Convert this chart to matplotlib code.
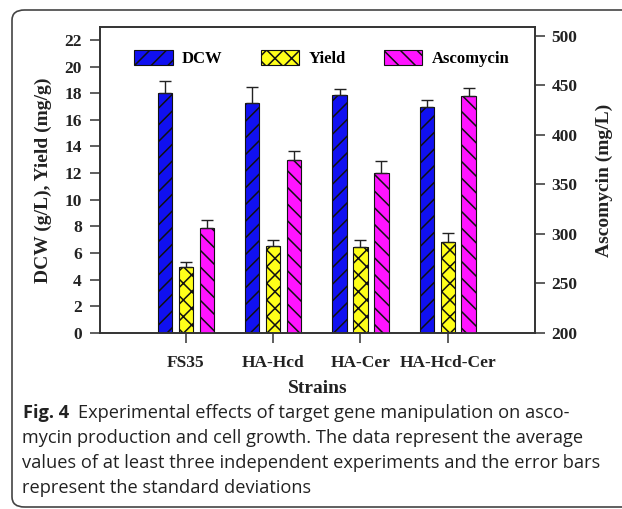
import matplotlib
matplotlib.use("Agg")
import matplotlib.pyplot as plt
import numpy as np
from matplotlib.patches import FancyBboxPatch

strains = ["FS35", "HA-Hcd", "HA-Cer", "HA-Hcd-Cer"]
dcw = [18.0, 17.3, 17.85, 17.0]
dcw_err = [0.95, 1.2, 0.45, 0.5]
yield_mg = [4.95, 6.55, 6.45, 6.85]
yield_err = [0.4, 0.45, 0.5, 0.65]
ascomycin = [306, 375, 362, 439]
ascomycin_err = [8, 9, 12, 8]

BLUE = "#1010f0"
YELLOW = "#ffff1a"
MAGENTA = "#ff14ff"
SERIF = "Liberation Serif"
TEXT = "#222222"

plt.rcParams["hatch.linewidth"] = 1.1
plt.rcParams["hatch.color"] = "#222222"

fig = plt.figure(figsize=(6.22, 5.09), dpi=100)
W, H = 622, 509
ax = fig.add_axes([100 / W, 1 - 333 / H, 435 / W, 306 / H])
ax2 = ax.twinx()

x = np.arange(len(strains))
width = 0.165
offset = 0.24
err_kw = dict(ecolor="#222222", elinewidth=1.0, capsize=4.5, capthick=1.0)

b1 = ax.bar(x - offset, dcw, width, color=BLUE, edgecolor="#111111", hatch="//",
            linewidth=0.8, yerr=[np.zeros(4), dcw_err], error_kw=err_kw, label="DCW")
b2 = ax.bar(x, yield_mg, width, color=YELLOW, edgecolor="#111111", hatch="xx",
            linewidth=0.8, yerr=[np.zeros(4), yield_err], error_kw=err_kw, label="Yield")
asc_h = np.array(ascomycin) - 200
b3 = ax2.bar(x + offset, asc_h, width, bottom=200, color=MAGENTA, edgecolor="#111111",
             hatch="\\\\", linewidth=0.8, yerr=[np.zeros(4), ascomycin_err],
             error_kw=err_kw, label="Ascomycin")

ax.set_xlim(-0.985, 4.0)
ax.set_ylim(0, 22.97)
ax2.set_ylim(200, 509)
ax.set_yticks(np.arange(0, 23, 2))
ax2.set_yticks(np.arange(200, 501, 50))
ax.set_xticks(x)
ax.set_xticklabels(strains)

for a in (ax, ax2):
    for s in a.spines.values():
        s.set_linewidth(1.2)
        s.set_color("#333333")
    a.tick_params(direction="out", length=7, width=1.1, color="#333333")
    for lab in a.get_yticklabels() + a.get_xticklabels():
        lab.set_fontfamily(SERIF)
        lab.set_fontweight("bold")
        lab.set_fontsize(12.5)
        lab.set_color(TEXT)
ax.tick_params(axis="x", pad=9)
ax.tick_params(axis="y", pad=6)
ax2.tick_params(axis="y", pad=5)

ax.set_ylabel("DCW (g/L), Yield (mg/g)", fontfamily=SERIF, fontweight="bold",
              fontsize=14, color=TEXT, labelpad=9)
ax2.set_ylabel("Ascomycin (mg/L)", fontfamily=SERIF, fontweight="bold",
               fontsize=14, color=TEXT, labelpad=13)
ax.set_xlabel("Strains", fontfamily=SERIF, fontweight="bold", fontsize=14,
              color=TEXT, labelpad=6)

leg = ax.legend(handles=[b1, b2, b3], loc="upper center", ncol=3, frameon=False,
                bbox_to_anchor=(0.51, 0.975), handlelength=2.3, handleheight=1.0,
                columnspacing=2.3, handletextpad=0.55,
                prop={"family": SERIF, "weight": "bold", "size": 12})

box = FancyBboxPatch((12 / W, 2 / H), 700 / W, 497 / H,
                     boxstyle="round,pad=0,rounding_size=0.02",
                     transform=fig.transFigure, fill=False,
                     edgecolor="#444444", linewidth=1.2)
fig.patches.append(box)

# caption: size the font so the widest line spans the same width as the reference
caption_first = "Experimental effects of target gene manipulation on asco-"
caption_lines = [
    "mycin production and cell growth. The data represent the average",
    "values of at least three independent experiments and the error bars",
    "represent the standard deviations",
]
baselines = [418, 443, 468, 493]
cap_font = "Open Sans"
renderer = fig.canvas.get_renderer()
probe = fig.text(0, 0, caption_lines[1], fontfamily=cap_font, fontsize=13)
probe_w = probe.get_window_extent(renderer).width
probe.remove()
fs = 13 * 576 / probe_w

fig_label = fig.text(23 / W, 1 - baselines[0] / H, "Fig. 4", fontfamily=cap_font,
                     fontweight="bold", fontsize=fs, va="baseline", ha="left", color=TEXT)
label_w = fig_label.get_window_extent(renderer).width
fig.text((23 + label_w + 9) / W, 1 - baselines[0] / H, caption_first,
         fontfamily=cap_font, fontsize=fs, va="baseline", ha="left", color=TEXT)
for line, base in zip(caption_lines, baselines[1:]):
    fig.text(22 / W, 1 - base / H, line, fontfamily=cap_font, fontsize=fs,
             va="baseline", ha="left", color=TEXT)

fig.savefig("out.png", dpi=100)
